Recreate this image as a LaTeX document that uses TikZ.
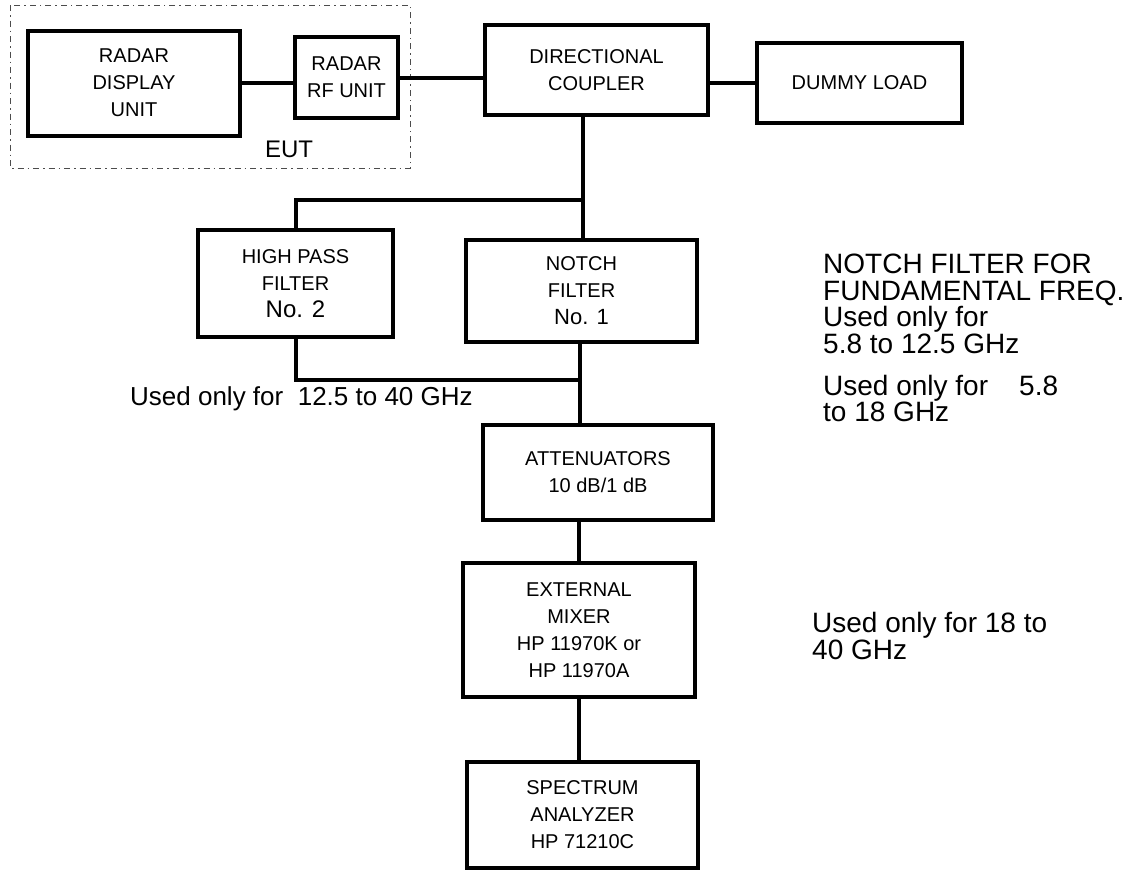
\documentclass[tikz,border=0pt]{standalone}
\usepackage{fontspec}
\setmainfont{Liberation Sans}
\begin{document}
\begin{tikzpicture}[x=1pt,y=-1pt,
  blk/.style={draw,line width=4pt,align=center,inner sep=0pt,
    font=\fontsize{20}{27}\selectfont},
  wire/.style={line width=4pt},
  note/.style={anchor=west,align=left,inner sep=0pt,
    font=\fontsize{28}{26.5}\selectfont}]
\useasboundingbox (0,0) rectangle (1127,871);
\fill[white] (0,0) rectangle (1127,871);
% EUT dashed frame
\draw[line width=1pt,black!70,dash pattern=on 6pt off 4pt on 1.5pt off 4pt]
  (10,5) rectangle (410,168);
\node[blk,minimum width=212pt,minimum height=105pt] (du) at (134,83) {RADAR\\DISPLAY\\UNIT};
\node[blk,minimum width=103pt,minimum height=81pt] (rf) at (346.5,77.5) {RADAR\\RF UNIT};
\node[font=\fontsize{24}{26}\selectfont,inner sep=0pt] (eut) at (289,149) {EUT};
\node[blk,minimum width=223pt,minimum height=90pt] (dc) at (596.5,70) {DIRECTIONAL\\COUPLER};
\node[blk,minimum width=205pt,minimum height=80pt] (dl) at (859.5,83) {DUMMY LOAD};
\node[blk,minimum width=195pt,minimum height=107pt] (hpf) at (295.5,283.5)
  {HIGH PASS\\FILTER\\{\fontsize{24}{27}\selectfont No. 2}};
\node[blk,minimum width=231pt,minimum height=102pt] (nf) at (581.5,291)
  {NOTCH\\FILTER\\{\fontsize{22}{27}\selectfont No. 1}};
\node[blk,minimum width=230pt,minimum height=95pt] (att) at (598,472.5)
  {ATTENUATORS\\10 dB/1 dB};
\node[blk,minimum width=232pt,minimum height=134pt] (mix) at (579,630)
  {EXTERNAL\\MIXER\\HP 11970K or\\HP 11970A};
\node[blk,minimum width=231pt,minimum height=106pt] (sa) at (582.5,815)
  {SPECTRUM\\ANALYZER\\HP 71210C};
\coordinate (j1) at (583,200);
\coordinate (j2) at (580,380);
\draw[wire] (du.east) -- (du.east -| rf.west);
\draw[wire] (rf.east) -- (rf.east -| dc.west);
\draw[wire] (dl.west) -- (dl.west -| dc.east);
\draw[wire] (dc.south -| j1) -- (j1) -| (hpf.north);
\draw[wire] (j1) -- (j1 |- nf.north);
\draw[wire] (hpf.south) |- (j2);
\draw[wire] (nf.south -| j2) -- (j2 |- att.north);
\draw[wire] (att.south -| mix.north) -- (mix.north);
\draw[wire] (mix.south) -- (mix.south |- sa.north);
% notes
\node[note,font=\fontsize{26}{26}\selectfont] (n1) at (130,399) {Used only for\ \ 12.5 to 40 GHz};
\node[note,anchor=north west] (n2) at (823,254)
  {NOTCH FILTER FOR\\FUNDAMENTAL FREQ.\\Used only for\\5.8 to 12.5 GHz};
\node[note,anchor=north west] (n3) at (823,375)
  {Used only for\ \ \ \ 5.8\\to 18 GHz};
\node[note,anchor=north west] (n4) at (812,612)
  {Used only for 18 to\\40 GHz};
\end{tikzpicture}
\end{document}
